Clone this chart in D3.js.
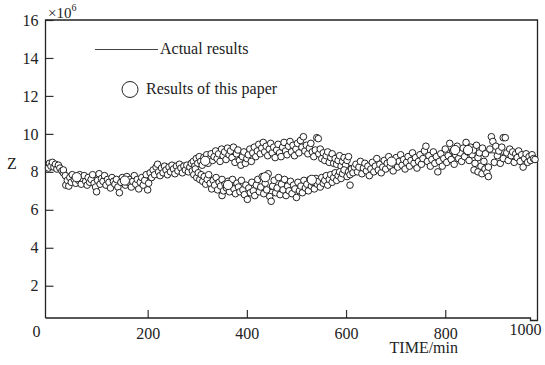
<!DOCTYPE html>
<html>
<head>
<meta charset="utf-8">
<script src="https://cdn.jsdelivr.net/npm/d3@7"></script>
<style>
  body { margin: 0; background: #fff; }
  svg text { font-family: "Liberation Serif", "Times New Roman", serif; fill: #222; }
</style>
</head>
<body>
<div id="chart"></div>
<script>
// Tick labels
const yTicks = [2, 4, 6, 8, 10, 12, 14, 16]
const xTicks = [200, 400, 600, 800]
const xEndLabels = ['0', '1000']

// Actual results (main path and the lower branch)
const actualTime = [0, 20, 40, 60, 80, 100, 120, 140, 160, 180, 200, 220, 240, 260, 280, 300, 320, 340, 360, 380,
  400, 420, 440, 460, 480, 500, 520, 540, 560, 580, 600, 620, 640, 660, 680, 700, 720, 740, 760, 780,
  800, 820, 840, 860, 880, 900, 920, 940, 960, 980]
const actualZ = [8.3, 8.2, 7.9, 7.6, 7.6, 7.5, 7.5, 7.45, 7.5, 7.5, 7.6, 7.9, 8.05, 8.1, 8.2, 8.4, 8.6, 8.75, 8.9, 8.9,
  9.0, 9.1, 9.2, 9.2, 9.25, 9.3, 9.2, 9.0, 8.8, 8.6, 8.4, 8.25, 8.2, 8.25, 8.4, 8.55, 8.6, 8.7, 8.75, 8.8,
  8.85, 8.9, 8.95, 9.0, 9.0, 9.0, 8.9, 8.8, 8.75, 8.7]
const branchTime = [280, 300, 320, 340, 360, 380, 400, 420, 440, 460, 480, 500, 520, 540, 560, 580, 600, 620, 640]
const branchZ = [8.1, 7.9, 7.7, 7.45, 7.3, 7.2, 7.1, 7.1, 7.05, 7.1, 7.2, 7.3, 7.35, 7.5, 7.6, 7.75, 7.9, 8.05, 8.2]

// Results of this paper [time, Z]
const paperMain = [[0,8.2],[2,8.45],[5,8.3],[8,8.5],[11,8.25],[14,8.4],[17,8.15],[20,8.35],[23,8.2],[27,8.05],
  [30,7.95],[30,8.1],[34,7.8],[35,7.3],[38,7.55],[41,7.25],[43,7.7],[46,7.45],[48,7.85],[52,7.6],[55,7.4],
  [57,7.75],[61,7.55],[63,7.85],[66,7.35],[69,7.65],[72,7.8],[75,7.5],[78,7.3],[80,7.7],[83,7.45],[86,7.6],
  [89,7.85],[92,7.4],[95,7.2],[97,6.95],[99,7.55],[102,7.9],[104,7.35],[107,7.65],[110,7.5],[113,7.8],
  [116,7.3],[119,7.6],[122,7.45],[125,7.15],[128,7.7],[131,7.5],[134,7.35],[137,7.6],[140,7.2],[143,6.9],
  [146,7.45],[149,7.7],[152,7.55],[155,7.3],[158,7.75],[161,7.45],[164,7.6],[167,7.2],[170,7.5],[173,7.8],
  [176,7.35],[179,7.6],[182,7.1],[185,7.45],[188,7.7],[191,7.3],[194,7.55],[197,7.85],[200,7.05],[202,7.4],
  [205,7.95],[208,7.7],[211,8.1],[214,7.85],[217,8.25],[220,8.4],[222,8.0],[225,7.8],[228,8.2],[231,7.95],
  [234,8.3],[237,8.1],[240,7.85],[243,8.25],[246,8.0],[249,8.35],[252,8.15],[255,7.9],[258,8.3],[261,8.05],
  [264,8.4],[267,8.2],[270,7.95],[273,8.3],[276,8.1],[279,8.35],[282,8.0],[285,8.25],[288,8.45]]
const paperUpper = [[292,8.55],[295,8.3],[298,8.7],[301,8.45],[304,8.8],[307,8.55],[310,8.35],[313,8.75],
  [316,8.6],[319,8.9],[322,8.45],[325,8.7],[328,8.95],[331,8.6],[334,8.8],[337,9.1],[340,8.7],[343,8.95],
  [346,8.55],[349,9.2],[352,8.85],[355,9.05],[358,8.65],[361,9.25],[364,8.9],[367,9.1],[370,8.75],[373,9.3],
  [376,8.5],[379,8.95],[382,9.15],[385,8.6],[388,8.35],[391,8.8],[394,9.05],[397,8.45],[400,8.7],[403,8.9],
  [406,9.2],[409,8.55],[412,9.0],[415,9.3],[418,8.8],[421,9.1],[424,9.45],[427,8.95],[430,9.25],[433,9.55],
  [436,9.05],[439,9.35],[442,8.85],[445,9.2],[448,9.5],[451,9.0],[454,9.3],[457,8.75],[460,9.15],[463,9.45],
  [466,9.0],[469,8.8],[472,9.3],[475,9.55],[478,9.1],[481,8.9],[484,9.35],[487,9.6],[490,9.05],[493,9.4],
  [496,8.85],[499,9.2],[502,9.5],[505,9.0],[508,9.65],[511,9.3],[514,9.85],[517,9.1],[520,9.4],[523,8.95],
  [526,9.25],[529,9.5],[532,9.05],[535,8.8],[538,9.15],[541,9.8],[544,9.75],[545,8.95],[548,9.2],[551,8.7],
  [554,9.0],[557,8.6],[560,8.85],[563,9.05],[566,8.5],[569,8.75],[572,8.95],[575,8.45],[578,8.7],[581,8.4],
  [584,8.6],[587,8.85],[590,8.3],[593,8.55],[596,8.75],[599,8.35],[602,8.6],[605,8.8]]
const paperLower = [[290,8.05],[293,7.85],[296,8.15],[299,7.7],[302,7.95],[305,7.6],[308,7.85],[311,7.5],
  [314,7.75],[317,7.35],[320,7.6],[323,7.85],[326,7.4],[329,7.1],[332,7.55],[335,7.3],[338,7.7],[341,7.05],
  [344,7.45],[347,7.25],[350,6.75],[350,7.6],[353,7.0],[356,7.35],[359,7.15],[362,7.5],[365,6.95],[368,7.3],
  [371,7.6],[374,7.1],[377,6.85],[380,7.4],[383,7.2],[386,6.95],[389,7.55],[392,7.05],[395,6.8],[398,7.3],
  [401,6.55],[404,7.15],[407,6.9],[410,7.45],[413,7.0],[416,6.75],[419,7.3],[422,7.6],[425,6.95],[428,7.2],
  [431,7.75],[434,6.85],[437,7.4],[440,7.05],[443,7.9],[446,6.7],[449,6.45],[452,7.25],[455,7.55],[458,6.9],
  [461,7.15],[464,7.7],[467,6.8],[470,7.35],[473,7.05],[476,7.6],[479,6.75],[482,7.25],[485,7.0],[488,7.5],
  [491,6.85],[494,7.3],[497,7.1],[500,6.65],[503,7.45],[506,7.0],[509,7.25],[512,6.9],[515,7.55],[518,7.15],
  [521,7.35],[524,7.0],[527,7.6],[530,7.25],[533,7.45],[536,7.1],[539,7.65],[542,7.35],[545,7.5],[548,7.2],
  [551,7.7],[554,7.4],[557,7.55],[560,7.8],[563,7.3],[566,7.6],[569,7.85],[572,7.45],[575,7.7],[578,7.95],
  [581,7.55],[584,7.8],[587,8.0],[590,7.65],[593,7.9],[596,8.1],[602,7.75],[605,8.0],[608,7.3],[608,7.85],
  [611,8.15],[614,7.95],[617,8.25]]
const paperRight = [[620,8.4],[623,8.0],[626,8.25],[629,8.55],[632,7.9],[635,8.2],[638,8.45],[641,8.05],
  [644,8.3],[647,7.8],[650,8.15],[653,8.5],[656,8.0],[659,8.3],[662,8.7],[665,8.1],[668,8.4],[671,7.95],
  [674,8.25],[677,8.6],[680,8.15],[683,8.45],[686,8.8],[689,8.3],[692,8.6],[695,8.05],[698,8.4],[701,8.75],
  [704,8.25],[707,8.55],[710,8.9],[713,8.35],[716,8.65],[719,8.15],[722,8.5],[725,8.8],[728,8.3],[731,8.6],
  [734,9.0],[737,8.45],[740,8.75],[743,8.2],[746,8.55],[749,8.9],[752,8.4],[755,8.7],[758,9.1],[761,9.35],
  [764,8.55],[767,8.85],[770,8.3],[773,8.65],[776,9.05],[779,8.45],[782,8.8],[785,8.0],[788,8.55],[791,8.95],
  [794,8.3],[797,8.7],[800,9.2],[803,8.5],[806,8.85],[809,9.5],[812,8.65],[815,9.1],[818,8.4],[821,8.9],
  [824,9.35],[827,8.7],[830,9.0],[833,8.55],[836,9.25],[839,8.8],[842,9.55],[845,9.05],[848,8.6],[851,9.3],
  [854,8.9],[857,9.15],[858,8.1],[860,8.45],[863,9.4],[866,8.75],[866,8.0],[869,9.0],[872,8.3],[874,7.9],
  [875,9.25],[878,8.55],[880,8.15],[881,8.95],[884,7.95],[887,7.75],[887,8.25],[890,9.2],[893,9.85],[896,9.6],
  [899,8.5],[902,9.35],[905,8.85],[908,9.1],[911,8.45],[914,9.3],[917,8.7],[917,9.8],[921,9.8],[924,9.0],
  [927,8.6],[930,9.2],[933,8.85],[936,9.05],[939,8.5],[942,8.95],[945,8.75],[948,9.1],[951,8.55],[954,8.9],
  [957,8.25],[960,8.7],[963,8.95],[966,8.5],[969,8.8],[972,8.6],[975,8.9],[978,8.7],[981,8.65]]
// a few points drawn as larger circles in the original
const paperLarge = [[57,7.72],[154,7.54],[316,8.58],[362,7.31],[437,7.72],[531,7.58],[692,8.54],[820,9.15],[846,9.15]]

const width = 545, height = 365

const svg = d3.select('#chart').append('svg')
  .attr('width', width)
  .attr('height', height)

// Scales
const x = d3.scaleLinear().domain([-6, 986]).range([45.5, 537.5])
const y = d3.scaleLinear().domain([0.3, 16]).range([318, 20])

// Y axis, ticks pointing inward
const yAxis = svg.append('g')
  .attr('transform', 'translate(45.5,0)')
  .call(d3.axisLeft(y).tickValues(yTicks).tickSize(-8).tickPadding(7))
yAxis.select('.domain').remove()
yAxis.selectAll('line').attr('stroke', '#333').attr('stroke-width', 1.2)
yAxis.selectAll('text').style('font-size', '16px').attr('fill', '#222')

// X axis
const xAxis = svg.append('g')
  .attr('transform', 'translate(0,318)')
  .call(d3.axisBottom(x).tickValues(xTicks).tickSize(-8).tickPadding(9.5))
xAxis.select('.domain').remove()
xAxis.selectAll('line').attr('stroke', '#333').attr('stroke-width', 1.2)
xAxis.selectAll('text').style('font-size', '16px').attr('fill', '#222')

// End labels of the x axis
svg.append('text').attr('x', x(-6) - 9).attr('y', 337).attr('text-anchor', 'middle')
  .style('font-size', '16px').text(xEndLabels[0])
svg.append('text').attr('x', x(986) - 12).attr('y', 335).attr('text-anchor', 'middle')
  .style('font-size', '16px').text(xEndLabels[1])

// Frame
const [x0, x1] = x.range()
const [yb, yt] = y.range()
svg.append('path')
  .attr('d', `M${x0},${yb}V${yt}H${x1}V${yb + 2.5}H${x1 - 7}V${yb}H${x0}`)
  .attr('fill', 'none')
  .attr('stroke', '#222')
  .attr('stroke-width', 1.3)

// Axis titles
svg.append('text').attr('x', 12).attr('y', 169).attr('text-anchor', 'middle')
  .style('font-size', '16px').text('Z')
svg.append('text').attr('x', 458).attr('y', 353).attr('text-anchor', 'end')
  .style('font-size', '16px').text('TIME/min')

const mult = svg.append('text').attr('x', 48).attr('y', 18).style('font-size', '15px')
mult.append('tspan').text('×10')
mult.append('tspan').attr('dy', -7).style('font-size', '10px').text('6')

// Actual results lines
const line = d3.line().x(d => x(d[0])).y(d => y(d[1]))
const mainPath = actualTime.map((t, i) => [t, actualZ[i]])
const lowerPath = branchTime.map((t, i) => [t, branchZ[i]])
svg.selectAll('.actual')
  .data([mainPath, lowerPath])
  .join('path')
  .attr('class', 'actual')
  .attr('d', line)
  .attr('fill', 'none')
  .attr('stroke', '#333')
  .attr('stroke-width', 1)

// Results of this paper
const points = paperMain.concat(paperUpper, paperLower, paperRight).map(d => [d[0], d[1], 3.3])
  .concat(paperLarge.map(d => [d[0], d[1], 4.6]))
svg.append('g').selectAll('circle')
  .data(points)
  .join('circle')
  .attr('cx', d => x(d[0]))
  .attr('cy', d => y(d[1]))
  .attr('r', d => d[2])
  .attr('fill', '#fff')
  .attr('stroke', '#222')
  .attr('stroke-width', 1)

// Legend
svg.append('line')
  .attr('x1', 95).attr('x2', 158).attr('y1', 49.5).attr('y2', 49.5)
  .attr('stroke', '#444').attr('stroke-width', 1)
svg.append('text').attr('x', 160).attr('y', 54).style('font-size', '16px').text('Actual results')
svg.append('circle')
  .attr('cx', 130).attr('cy', 89.5).attr('r', 8)
  .attr('fill', '#fff').attr('stroke', '#222').attr('stroke-width', 1)
svg.append('text').attr('x', 146).attr('y', 94).style('font-size', '16px').text('Results of this paper')
</script>
</body>
</html>
